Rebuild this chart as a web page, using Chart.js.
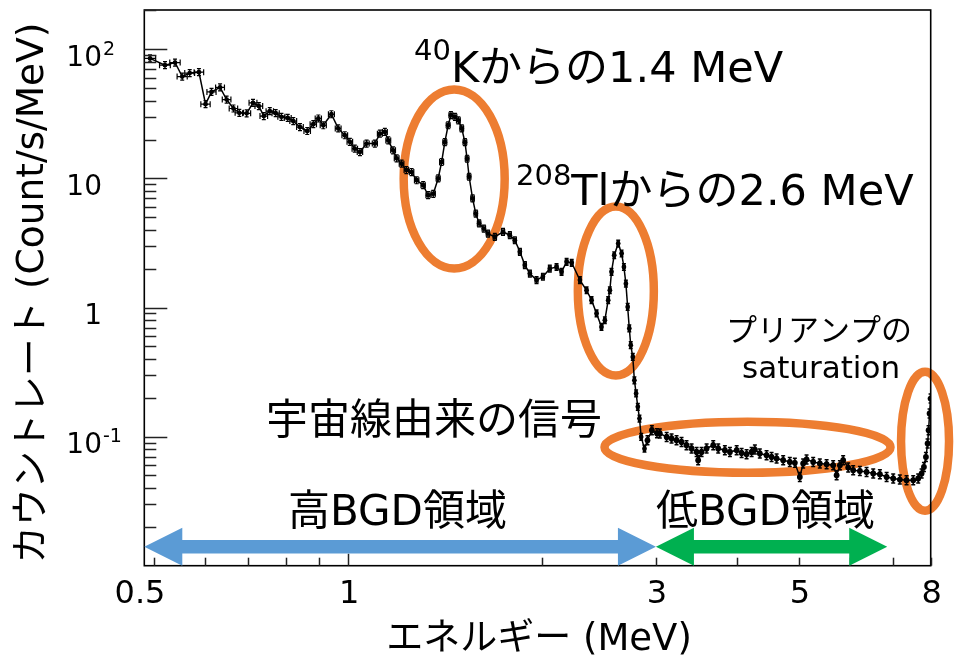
<!DOCTYPE html>
<html>
<head>
<meta charset="utf-8">
<script src="https://cdn.jsdelivr.net/npm/chart.js@4/dist/chart.umd.min.js"></script>
<style>
  html, body { margin: 0; padding: 0; background: #ffffff; }
  #wrap { width: 955px; height: 663px; position: relative; }
</style>
</head>
<body>
<div id="wrap"><canvas id="spectrum" width="955" height="663"></canvas></div>
<script>
// Background gamma-ray spectrum: bin centre energy (MeV) and count rate (Count/s/MeV)
const energyMeV = [
  0.493, 0.520, 0.539, 0.553, 0.568, 0.587, 0.601, 0.614, 0.633, 0.648,
  0.664, 0.678, 0.696, 0.712, 0.727, 0.740, 0.756, 0.772, 0.788, 0.806,
  0.822, 0.842, 0.864, 0.883, 0.899, 0.915, 0.942, 0.965, 0.988, 1.006,
  1.024, 1.043, 1.068, 1.100, 1.120, 1.140, 1.154, 1.174, 1.189, 1.210,
  1.231, 1.254, 1.277, 1.307, 1.330, 1.355, 1.379, 1.396, 1.412, 1.429,
  1.443, 1.464, 1.482, 1.500, 1.517, 1.529, 1.540, 1.559, 1.577, 1.596,
  1.623, 1.647, 1.688, 1.738, 1.781, 1.813, 1.846, 1.879, 1.913, 1.959,
  2.004, 2.054, 2.104, 2.142, 2.181, 2.221, 2.287, 2.342, 2.384, 2.427,
  2.470, 2.500, 2.530, 2.545, 2.560, 2.585, 2.622, 2.654, 2.676, 2.695,
  2.712, 2.728, 2.742, 2.762, 2.778, 2.795, 2.812, 2.829, 2.846, 2.880,
  2.911, 2.957, 3.011, 3.042, 3.117, 3.172, 3.229, 3.287, 3.346, 3.407,
  3.469, 3.488, 3.531, 3.595, 3.681, 3.747, 3.837, 3.907, 4.002, 4.073,
  4.146, 4.221, 4.271, 4.347, 4.453, 4.533, 4.615, 4.725, 4.838, 4.926,
  5.014, 5.074, 5.136, 5.259, 5.385, 5.517, 5.648, 5.718, 5.785, 5.853,
  5.959, 6.066, 6.213, 6.363, 6.516, 6.673, 6.835, 6.998, 7.165, 7.339,
  7.516, 7.651, 7.745, 7.809, 7.865, 7.912, 7.940, 7.968, 7.996
];
const rateCps = [
  85.0, 75.3, 79.0, 61.5, 65.5, 66.5, 37.6, 46.8, 50.7, 40.8,
  34.8, 32.2, 31.9, 38.5, 36.3, 30.4, 33.2, 32.0, 30.0, 29.4,
  27.8, 25.0, 23.3, 26.3, 29.1, 25.8, 31.4, 24.4, 21.6, 19.2,
  17.0, 16.0, 18.6, 18.6, 22.2, 22.9, 19.7, 16.5, 14.3, 13.0,
  11.6, 11.2, 9.68, 8.86, 7.41, 7.60, 10.0, 13.4, 19.1, 25.8,
  30.9, 30.0, 28.2, 24.4, 19.1, 14.2, 10.3, 7.00, 5.34, 4.48,
  4.09, 3.74, 3.52, 3.85, 3.63, 3.32, 2.70, 2.13, 1.83, 1.63,
  1.73, 2.00, 2.06, 1.89, 2.26, 2.22, 1.63, 1.36, 1.14, 0.900,
  0.707, 0.797, 1.14, 1.36, 1.89, 2.54, 3.13, 2.62, 2.06, 1.53,
  1.01, 0.688, 0.511, 0.414, 0.273, 0.216, 0.170, 0.138, 0.0995, 0.0806,
  0.0936, 0.112, 0.106, 0.1057, 0.0995, 0.0967, 0.0938, 0.0910, 0.0858, 0.0809,
  0.0761, 0.0657, 0.0761, 0.0809, 0.0858, 0.0809, 0.0785, 0.0761, 0.0785, 0.0748,
  0.0731, 0.0761, 0.0794, 0.0740, 0.0718, 0.0696, 0.0677, 0.0657, 0.0637, 0.0626,
  0.0487, 0.0619, 0.0665, 0.0637, 0.0619, 0.0611, 0.0600, 0.0502, 0.0600, 0.0657,
  0.0576, 0.0549, 0.0542, 0.0533, 0.0518, 0.0511, 0.0487, 0.0474, 0.0465, 0.0460,
  0.0460, 0.0474, 0.0518, 0.0582, 0.0696, 0.0884, 0.112, 0.151, 0.197
];
const binHalfWidthMeV = 0.01;

// Axis ticks
const xTickLabels = [0.5, 1, 3, 5, 8];
const xMajorTicks = [1];
const xMinorTicks = [0.5, 0.6, 0.7, 0.8, 0.9, 2, 3, 4, 5, 6, 7, 8];
const yTickValues = [0.1, 1, 10, 100];
const yTickBases = ['10', '1', '10', '10'];
const yTickExponents = ['-1', '', '', '2'];

// Region arrows (energy ranges) and their labels
const regionNames = ['高BGD領域', '低BGD領域'];
const regionFrom = [0.483, 3.0];
const regionTo = [3.0, 6.85];
const regionColors = ['#5B9BD5', '#00B050'];

const ORANGE = '#ED7D31';
const TXT = '"DejaVu Sans", "Noto Sans CJK JP", sans-serif';
const NUM = '"DejaVu Sans", sans-serif';

const points = energyMeV.map((e, i) => ({ x: e, y: rateCps[i] }));

function supText(ctx, x, y, base, sup, baseSize, supSize, raise, font, align) {
  ctx.font = baseSize + 'px ' + font;
  const wb = ctx.measureText(base).width;
  let x0 = x;
  if (align === 'right') x0 = x - wb;
  ctx.textAlign = 'left';
  ctx.textBaseline = 'alphabetic';
  ctx.fillText(base, x0, y);
  if (sup) {
    ctx.font = supSize + 'px ' + font;
    ctx.fillText(sup, x0 + wb + 1, y - raise);
  }
}

// leading isotope mass number as a superscript, then the rest of the line
function isotopeText(ctx, x, y, mass, rest, supSize, mainSize, raise) {
  ctx.textAlign = 'left';
  ctx.textBaseline = 'alphabetic';
  ctx.font = supSize + 'px ' + TXT;
  ctx.fillText(mass, x, y - raise);
  const w = ctx.measureText(mass).width;
  ctx.font = mainSize + 'px ' + TXT;
  ctx.fillText(rest, x + w, y);
}

const errorBars = {
  id: 'errorBars',
  afterDatasetsDraw(chart) {
    const { ctx, scales: { x, y }, chartArea: a } = chart;
    ctx.save();
    ctx.beginPath();
    ctx.rect(a.left, a.top, a.right - a.left, a.bottom - a.top);
    ctx.clip();
    ctx.strokeStyle = '#000';
    points.forEach(p => {
      const px = x.getPixelForValue(p.x);
      const py = y.getPixelForValue(p.y);
      const l = x.getPixelForValue(p.x - binHalfWidthMeV);
      const r = x.getPixelForValue(p.x + binHalfWidthMeV);
      const v = p.x > 2.9 ? 4.5 : 3.5;
      ctx.lineWidth = p.x > 2.9 ? 1.5 : 1.2;
      ctx.beginPath();
      ctx.moveTo(l, py); ctx.lineTo(r, py);
      ctx.moveTo(l, py - 3); ctx.lineTo(l, py + 3);
      ctx.moveTo(r, py - 3); ctx.lineTo(r, py + 3);
      ctx.moveTo(px, py - v); ctx.lineTo(px, py + v);
      ctx.moveTo(px - 2, py - v); ctx.lineTo(px + 2, py - v);
      ctx.moveTo(px - 2, py + v); ctx.lineTo(px + 2, py + v);
      ctx.stroke();
    });
    ctx.restore();
  }
};

const frameAndAxes = {
  id: 'frameAndAxes',
  beforeDatasetsDraw(chart) {
    const { ctx, scales: { x, y } } = chart;
    // orange ellipses marking spectral features
    const marks = [
      { e: 1.46, r: 9.9, rx: 50.5, ry: 89.5 },
      { e: 2.60, r: 1.34, rx: 38, ry: 84.5 },
      { e: 4.16, r: 0.0828, rx: 143, ry: 25.5 },
      { e: 7.84, r: 0.0921, rx: 24, ry: 69.5 }
    ];
    ctx.save();
    ctx.strokeStyle = ORANGE;
    ctx.lineWidth = 8.5;
    marks.forEach(m => {
      ctx.beginPath();
      ctx.ellipse(x.getPixelForValue(m.e), y.getPixelForValue(m.r), m.rx, m.ry, 0, 0, Math.PI * 2);
      ctx.stroke();
    });
    ctx.restore();
  },
  afterDraw(chart) {
    const { ctx, scales: { x, y }, chartArea: a } = chart;
    ctx.save();
    // frame
    ctx.strokeStyle = '#000';
    ctx.lineWidth = 1.6;
    ctx.strokeRect(a.left, a.top, a.right - a.left, a.bottom - a.top);
    // y ticks (inside)
    ctx.strokeStyle = '#222';
    ctx.lineWidth = 1.5;
    for (let d = -2; d <= 2; d++) {
      for (let k = 1; k <= 9; k++) {
        const v = k * Math.pow(10, d);
        if (v <= y.min || v >= y.max) continue;
        const py = Math.round(y.getPixelForValue(v)) + 0.5;
        const len = k === 1 ? 23 : 12;
        ctx.beginPath(); ctx.moveTo(a.left, py); ctx.lineTo(a.left + len, py); ctx.stroke();
      }
    }
    // x ticks (inside)
    xMinorTicks.concat(xMajorTicks).forEach(v => {
      const px = Math.round(x.getPixelForValue(v)) + 0.5;
      const len = xMajorTicks.includes(v) ? 12 : 8;
      ctx.beginPath(); ctx.moveTo(px, a.bottom); ctx.lineTo(px, a.bottom - len); ctx.stroke();
    });

    // region arrows
    regionFrom.forEach((from, i) => {
      const x0 = x.getPixelForValue(from);
      const x1 = x.getPixelForValue(regionTo[i]);
      const yc = 546.7, hw = 6.8, hl = 38, hh = 19;
      ctx.fillStyle = regionColors[i];
      ctx.beginPath();
      ctx.moveTo(x0, yc);
      ctx.lineTo(x0 + hl, yc - hh);
      ctx.lineTo(x0 + hl, yc - hw);
      ctx.lineTo(x1 - hl, yc - hw);
      ctx.lineTo(x1 - hl, yc - hh);
      ctx.lineTo(x1, yc);
      ctx.lineTo(x1 - hl, yc + hh);
      ctx.lineTo(x1 - hl, yc + hw);
      ctx.lineTo(x0 + hl, yc + hw);
      ctx.lineTo(x0 + hl, yc + hh);
      ctx.closePath();
      ctx.fill();
    });

    ctx.fillStyle = '#000';
    // x tick labels
    ctx.font = '32px ' + NUM;
    ctx.textAlign = 'center';
    ctx.textBaseline = 'alphabetic';
    xTickLabels.forEach(v => {
      const off = v === 0.5 ? -14 : 1;
      ctx.fillText(String(v), x.getPixelForValue(v) + off, 603);
    });
    // y tick labels
    yTickValues.forEach((v, i) => {
      const py = y.getPixelForValue(v);
      supText(ctx, 102, py + 16.5, yTickBases[i], yTickExponents[i], 28, 19, 11, NUM, 'right');
    });

    // axis titles
    ctx.textAlign = 'center';
    ctx.textBaseline = 'middle';
    ctx.font = '37px ' + TXT;
    ctx.fillText('エネルギー (MeV)', 539, 640);
    ctx.save();
    ctx.translate(33, 293);
    ctx.rotate(-Math.PI / 2);
    ctx.font = '37.5px ' + TXT;
    ctx.fillText('カウントレート (Count/s/MeV)', 0, 0);
    ctx.restore();

    // annotations
    isotopeText(ctx, 414, 82, '40', 'Kからの1.4 MeV', 29, 43, 22);
    isotopeText(ctx, 516, 205, '208', 'Tlからの2.6 MeV', 29, 43, 20);
    ctx.textAlign = 'left';
    ctx.textBaseline = 'alphabetic';
    ctx.font = '42px ' + TXT;
    ctx.fillText('宇宙線由来の信号', 266, 434);
    ctx.fillText(regionNames[0], 288, 525);
    ctx.fillText(regionNames[1], 656, 525);
    ctx.font = '31px ' + TXT;
    ctx.fillText('プリアンプの', 726, 341);
    ctx.fillText('saturation', 742, 378);
    ctx.restore();
  }
};

new Chart(document.getElementById('spectrum'), {
  type: 'line',
  data: {
    datasets: [{
      data: points,
      borderColor: '#000',
      borderWidth: 1.5,
      pointRadius: c => (c.raw && c.raw.x > 2.9 ? 2.9 : 2.4),
      pointBackgroundColor: '#000',
      pointBorderWidth: 0,
      tension: 0,
      fill: false
    }]
  },
  options: {
    responsive: false,
    animation: false,
    devicePixelRatio: 1,
    layout: { padding: { left: 0, top: 10, right: 24.3, bottom: 0 } },
    plugins: { legend: { display: false }, tooltip: { enabled: false } },
    scales: {
      x: {
        type: 'logarithmic', min: 0.483, max: 8,
        grid: { display: false }, border: { display: false },
        ticks: { display: false },
        afterFit(s) { s.height = 97.3; }
      },
      y: {
        type: 'logarithmic', min: 0.01, max: 201.6,
        grid: { display: false }, border: { display: false },
        ticks: { display: false },
        afterFit(s) { s.width = 144.3; }
      }
    }
  },
  plugins: [errorBars, frameAndAxes]
});
</script>
</body>
</html>
